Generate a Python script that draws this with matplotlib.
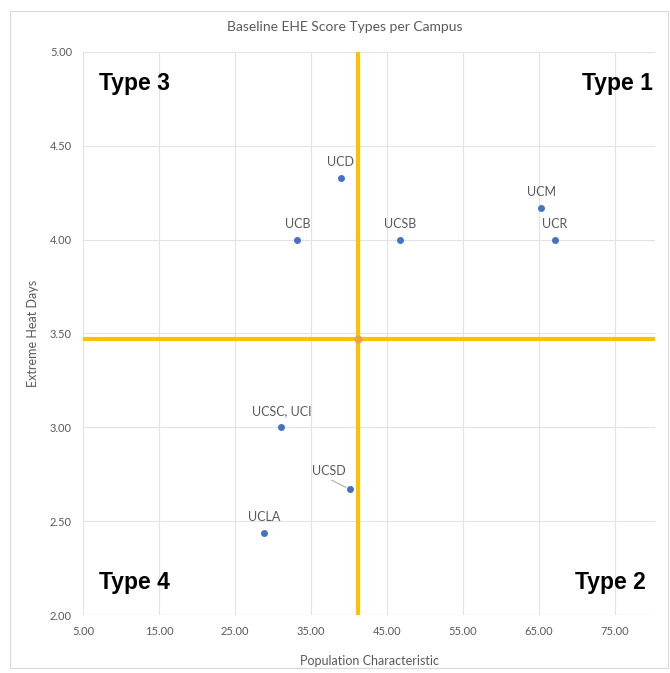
import matplotlib
matplotlib.use("Agg")
import matplotlib.pyplot as plt
from matplotlib.patches import Rectangle

campuses = ["UCD", "UCB", "UCSB", "UCM", "UCR", "UCSC, UCI", "UCSD", "UCLA"]
pop_char = [38.9, 33.2, 46.7, 65.3, 67.1, 31.1, 40.1, 28.8]
heat_days = [4.33, 4.00, 4.00, 4.17, 4.00, 3.00, 2.67, 2.44]
x_mean = 41.2
y_mean = 3.47
x_ticks = [5, 15, 25, 35, 45, 55, 65, 75]
y_ticks = [2.0, 2.5, 3.0, 3.5, 4.0, 4.5, 5.0]
quadrants = ["Type 3", "Type 1", "Type 4", "Type 2"]

plt.rcParams['font.family'] = ['Lato', 'DejaVu Sans']
fig = plt.figure(figsize=(6.70, 6.73), dpi=100)
fig.patches.append(Rectangle((0.015, 0.008), 0.982, 0.975, transform=fig.transFigure,
                             fill=False, edgecolor='#d9d9d9', linewidth=0.8))
ax = fig.add_axes([0.124, 0.086, 0.854, 0.837])
ax.set_xlim(5, 80.3)
ax.set_ylim(2.0, 5.0)
ax.set_xticks(x_ticks)
ax.set_yticks(y_ticks)
ax.set_xticklabels([f"{v:.2f}" for v in x_ticks])
ax.set_yticklabels([f"{v:.2f}" for v in y_ticks])
ax.tick_params(length=0, labelsize=8, colors='#595959', pad=8)
ax.grid(True, color='#e3e3e3', linewidth=0.8)
ax.set_axisbelow(True)
for s in ax.spines.values():
    s.set_visible(False)
ax.axhline(2.0, color='#d9d9d9', linewidth=0.8)

ax.axvline(x_mean, color='#FFC000', linewidth=3, zorder=2)
ax.axhline(y_mean, color='#FFC000', linewidth=3, zorder=2)
ax.scatter([x_mean], [y_mean], s=22, color='#F4A040', zorder=3)

ax.scatter(pop_char, heat_days, s=16, color='#4472C4', zorder=4)

for name, x, y in zip(campuses, pop_char, heat_days):
    if name == "UCSD":
        ax.annotate(name, (x, y), xytext=(-15, 9), textcoords='offset points',
                    ha='center', va='bottom', fontsize=9, color='#595959',
                    arrowprops=dict(arrowstyle='-', color='#a6a6a6', lw=0.7,
                                    shrinkA=1, shrinkB=3,
                                    relpos=(0.45, -0.1)))
    else:
        ax.annotate(name, (x, y), xytext=(0, 7), textcoords='offset points',
                    ha='center', va='bottom', fontsize=9, color='#595959')

kw = dict(fontsize=16.5, fontweight='bold', family=['Liberation Sans', 'DejaVu Sans'],
          color='black', transform=ax.transAxes, va='center')
ax.text(0.028, 0.943, quadrants[0], ha='left', **kw)
ax.text(0.996, 0.943, quadrants[1], ha='right', **kw)
ax.text(0.028, 0.058, quadrants[2], ha='left', **kw)
ax.text(0.984, 0.058, quadrants[3], ha='right', **kw)

ax.set_xlabel("Population Characteristic", fontsize=9, color='#595959', labelpad=13)
ax.set_ylabel("Extreme Heat Days", fontsize=9, color='#595959', labelpad=8)
fig.text(0.515, 0.96, "Baseline EHE Score Types per Campus", ha='center', va='center',
         fontsize=10, color='#595959')

fig.savefig("out.png", dpi=100)
